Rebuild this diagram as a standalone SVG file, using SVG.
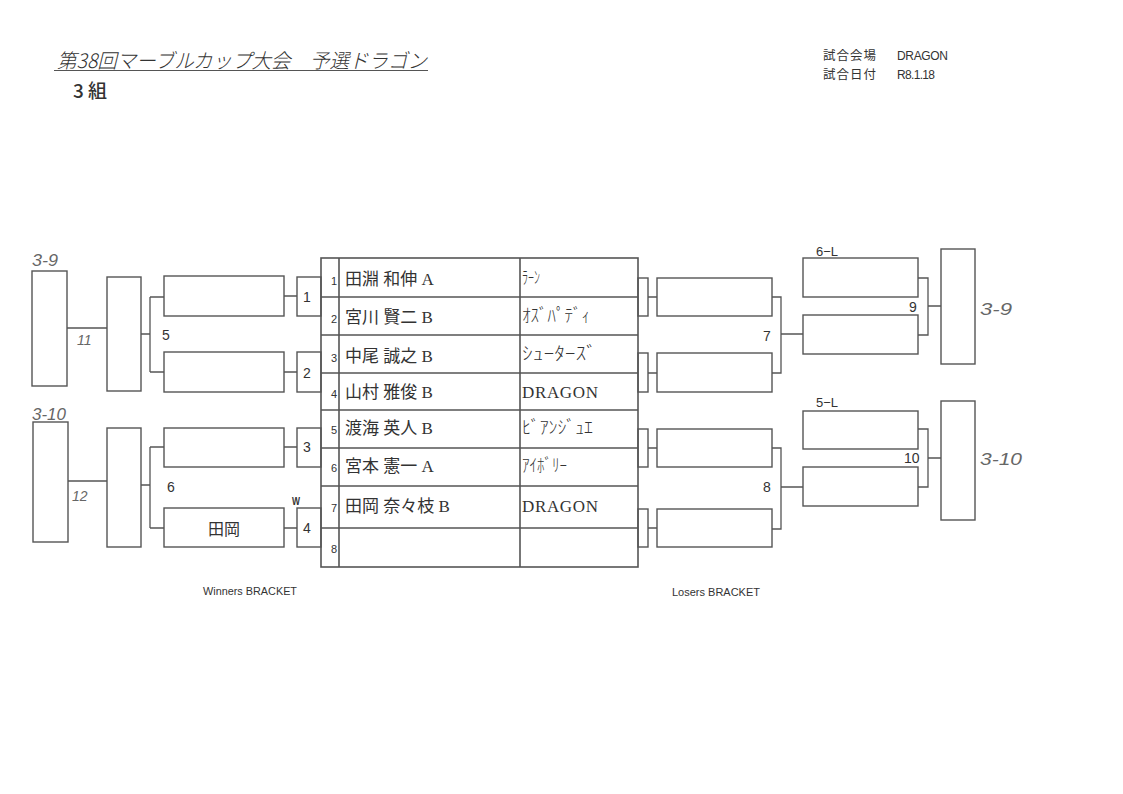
<svg xmlns="http://www.w3.org/2000/svg" width="1123" height="794" viewBox="0 0 1123 794">
<style>
.bx{fill:none;stroke:#555;stroke-width:1.4}
.ln{fill:none;stroke:#555;stroke-width:1.3}
.tb{fill:none;stroke:#555;stroke-width:1.6}
.s{font-family:"Liberation Sans","Noto Sans CJK JP",sans-serif;fill:#333}
.nm{font-family:"Liberation Serif","Noto Sans CJK JP",serif;font-size:17px;fill:#333}
.tm{font-family:"Noto Sans CJK JP",sans-serif;font-size:18px;font-weight:300;fill:#333}
.num{font-family:"Liberation Sans",sans-serif;font-size:11px;fill:#333;text-anchor:end}
.lb{font-family:"Liberation Sans",sans-serif;font-size:14px;fill:#333}
.hw{font-family:"Liberation Sans",sans-serif;font-style:italic;fill:#666}
</style>
<rect width="1123" height="794" fill="#ffffff"/>

<g id="header">
<text x="57" y="68" class="s" font-size="20" font-style="italic" textLength="370" lengthAdjust="spacingAndGlyphs" style="font-family:'Noto Sans CJK JP',sans-serif;font-weight:300">第38回マーブルカップ大会　予選ドラゴン</text>
<line x1="54" y1="70.5" x2="428" y2="70.5" stroke="#555" stroke-width="1.2"/>
<text x="73" y="98" class="s" font-size="19" style="font-family:'Noto Sans CJK JP',sans-serif;font-weight:500">3 組</text>
<text x="823" y="60" class="s" font-size="12.5" textLength="53">試合会場</text>
<text x="897" y="60" class="s" font-size="12" textLength="51">DRAGON</text>
<text x="823" y="79" class="s" font-size="12.5" textLength="53">試合日付</text>
<text x="897" y="79" class="s" font-size="12" textLength="38">R8.1.18</text>
</g>

<g id="connectors">
<path class="ln" d="M67,328H107 M68,481H107"/>
<path class="ln" d="M141,334H150 M150,297V372 M150,297H164 M150,372H164"/>
<path class="ln" d="M141,485H150 M150,447V528 M150,447H164 M150,528H164"/>
<path class="ln" d="M284,296H297 M284,372H297 M284,447H297 M284,528H297"/>
<path class="ln" d="M648,297H657 M648,373H657 M648,448H657 M648,528H657"/>
<path class="ln" d="M772,297H781V373H772 M781,334H803"/>
<path class="ln" d="M772,448H781V529H772 M781,487H803"/>
<path class="ln" d="M918,278H928V335H918 M928,306H941"/>
<path class="ln" d="M918,429H928V487H918 M928,458H941"/>
</g>

<g id="winners-bracket">
<g id="w-final-a"><rect class="bx" x="32" y="271" width="35" height="115"/></g>
<g id="w-final-b"><rect class="bx" x="33" y="422" width="35" height="120"/></g>
<g id="w5"><rect class="bx" x="107" y="277" width="34" height="114"/></g>
<g id="w6"><rect class="bx" x="107" y="428" width="34" height="119"/></g>
<g id="w5-top"><rect class="bx" x="164" y="276" width="120" height="40"/></g>
<g id="w5-bot"><rect class="bx" x="164" y="352" width="120" height="40"/></g>
<g id="w6-top"><rect class="bx" x="164" y="428" width="120" height="39"/></g>
<g id="w6-bot"><rect class="bx" x="164" y="508" width="120" height="39"/>
<text x="224" y="535" font-size="16" text-anchor="middle" fill="#333" font-family="'Noto Sans CJK JP', sans-serif">田岡</text></g>
<g id="m1"><rect class="bx" x="297" y="277" width="24" height="39"/><text x="303" y="302" class="lb">1</text></g>
<g id="m2"><rect class="bx" x="297" y="352" width="24" height="40"/><text x="303" y="378" class="lb">2</text></g>
<g id="m3"><rect class="bx" x="297" y="428" width="24" height="39"/><text x="303" y="452" class="lb">3</text></g>
<g id="m4"><rect class="bx" x="297" y="508" width="24" height="39"/><text x="303" y="533" class="lb">4</text></g>
<text x="292" y="505" class="s" font-size="10" font-weight="bold" textLength="8" lengthAdjust="spacingAndGlyphs">W</text>
<text x="162" y="340" class="lb">5</text>
<text x="167" y="492" class="lb">6</text>
<text x="203" y="595" class="s" font-size="10" textLength="94" lengthAdjust="spacingAndGlyphs">Winners BRACKET</text>
</g>

<g id="table">
<rect class="tb" x="321" y="258" width="317" height="309"/>
<path class="tb" d="M339,258V567 M520,258V567"/>
<path class="tb" d="M321,297H638 M321,335H638 M321,373H638 M321,410H638 M321,448H638 M321,486H638 M321,528H638"/>
<g id="row1"><text x="337" y="285" class="num">1</text><text x="345" y="285" class="nm">田淵 和伸 A</text><text x="522" y="284" class="tm" textLength="18" lengthAdjust="spacingAndGlyphs">ﾗｰﾝ</text></g>
<g id="row2"><text x="337" y="323" class="num">2</text><text x="345" y="323" class="nm">宮川 賢二 B</text><text x="522" y="322" class="tm" textLength="68" lengthAdjust="spacingAndGlyphs">ｵｽﾞﾊﾟﾃﾞｨ</text></g>
<g id="row3"><text x="337" y="362" class="num">3</text><text x="345" y="362" class="nm">中尾 誠之 B</text><text x="522" y="360" class="tm" textLength="75" lengthAdjust="spacingAndGlyphs">ｼｭｰﾀｰｽﾞ</text></g>
<g id="row4"><text x="337" y="398" class="num">4</text><text x="345" y="398" class="nm">山村 雅俊 B</text><text x="522" y="398" class="nm" textLength="76">DRAGON</text></g>
<g id="row5"><text x="337" y="434" class="num">5</text><text x="345" y="434" class="nm">渡海 英人 B</text><text x="522" y="434" class="tm" textLength="71" lengthAdjust="spacingAndGlyphs">ﾋﾞｱﾝｼﾞｭｴ</text></g>
<g id="row6"><text x="337" y="472" class="num">6</text><text x="345" y="472" class="nm">宮本 憲一 A</text><text x="522" y="472" class="tm" textLength="45" lengthAdjust="spacingAndGlyphs">ｱｲﾎﾞﾘｰ</text></g>
<g id="row7"><text x="337" y="512" class="num">7</text><text x="345" y="512" class="nm">田岡 奈々枝 B</text><text x="522" y="512" class="nm" textLength="76">DRAGON</text></g>
<g id="row8"><text x="337" y="553" class="num">8</text></g>
</g>

<g id="losers-bracket">
<g id="l-a"><rect class="bx" x="638" y="278" width="10" height="38"/></g>
<g id="l-b"><rect class="bx" x="638" y="353" width="10" height="39"/></g>
<g id="l-c"><rect class="bx" x="638" y="429" width="10" height="38"/></g>
<g id="l-d"><rect class="bx" x="638" y="509" width="10" height="38"/></g>
<g id="l7-top"><rect class="bx" x="657" y="278" width="115" height="38"/></g>
<g id="l7-bot"><rect class="bx" x="657" y="353" width="115" height="39"/></g>
<g id="l8-top"><rect class="bx" x="657" y="429" width="115" height="38"/></g>
<g id="l8-bot"><rect class="bx" x="657" y="509" width="115" height="38"/></g>
<g id="l9-top"><rect class="bx" x="803" y="258" width="115" height="39"/></g>
<g id="l9-bot"><rect class="bx" x="803" y="315" width="115" height="39"/></g>
<g id="l10-top"><rect class="bx" x="803" y="411" width="115" height="38"/></g>
<g id="l10-bot"><rect class="bx" x="803" y="467" width="115" height="39"/></g>
<g id="l9-final"><rect class="bx" x="941" y="249" width="34" height="115"/></g>
<g id="l10-final"><rect class="bx" x="941" y="401" width="34" height="119"/></g>
<text x="763" y="341" class="lb">7</text>
<text x="763" y="492" class="lb">8</text>
<text x="909" y="312" class="lb">9</text>
<text x="904" y="463" class="lb">10</text>
<text x="816" y="256" class="s" font-size="13">6−L</text>
<text x="816" y="407" class="s" font-size="13">5−L</text>
<text x="672" y="596" class="s" font-size="10" textLength="88" lengthAdjust="spacingAndGlyphs">Losers BRACKET</text>
</g>

<g id="handwriting">
<text x="32" y="266" class="hw" font-size="17" textLength="26" lengthAdjust="spacingAndGlyphs">3-9</text>
<text x="32" y="420" class="hw" font-size="16" textLength="34" lengthAdjust="spacingAndGlyphs">3-10</text>
<text x="77" y="345" class="hw" font-size="14">11</text>
<text x="72" y="501" class="hw" font-size="14">12</text>
<text x="980" y="315" class="hw" font-size="17" textLength="32" lengthAdjust="spacingAndGlyphs">3-9</text>
<text x="980" y="465" class="hw" font-size="16" textLength="42" lengthAdjust="spacingAndGlyphs">3-10</text>
</g>
</svg>
